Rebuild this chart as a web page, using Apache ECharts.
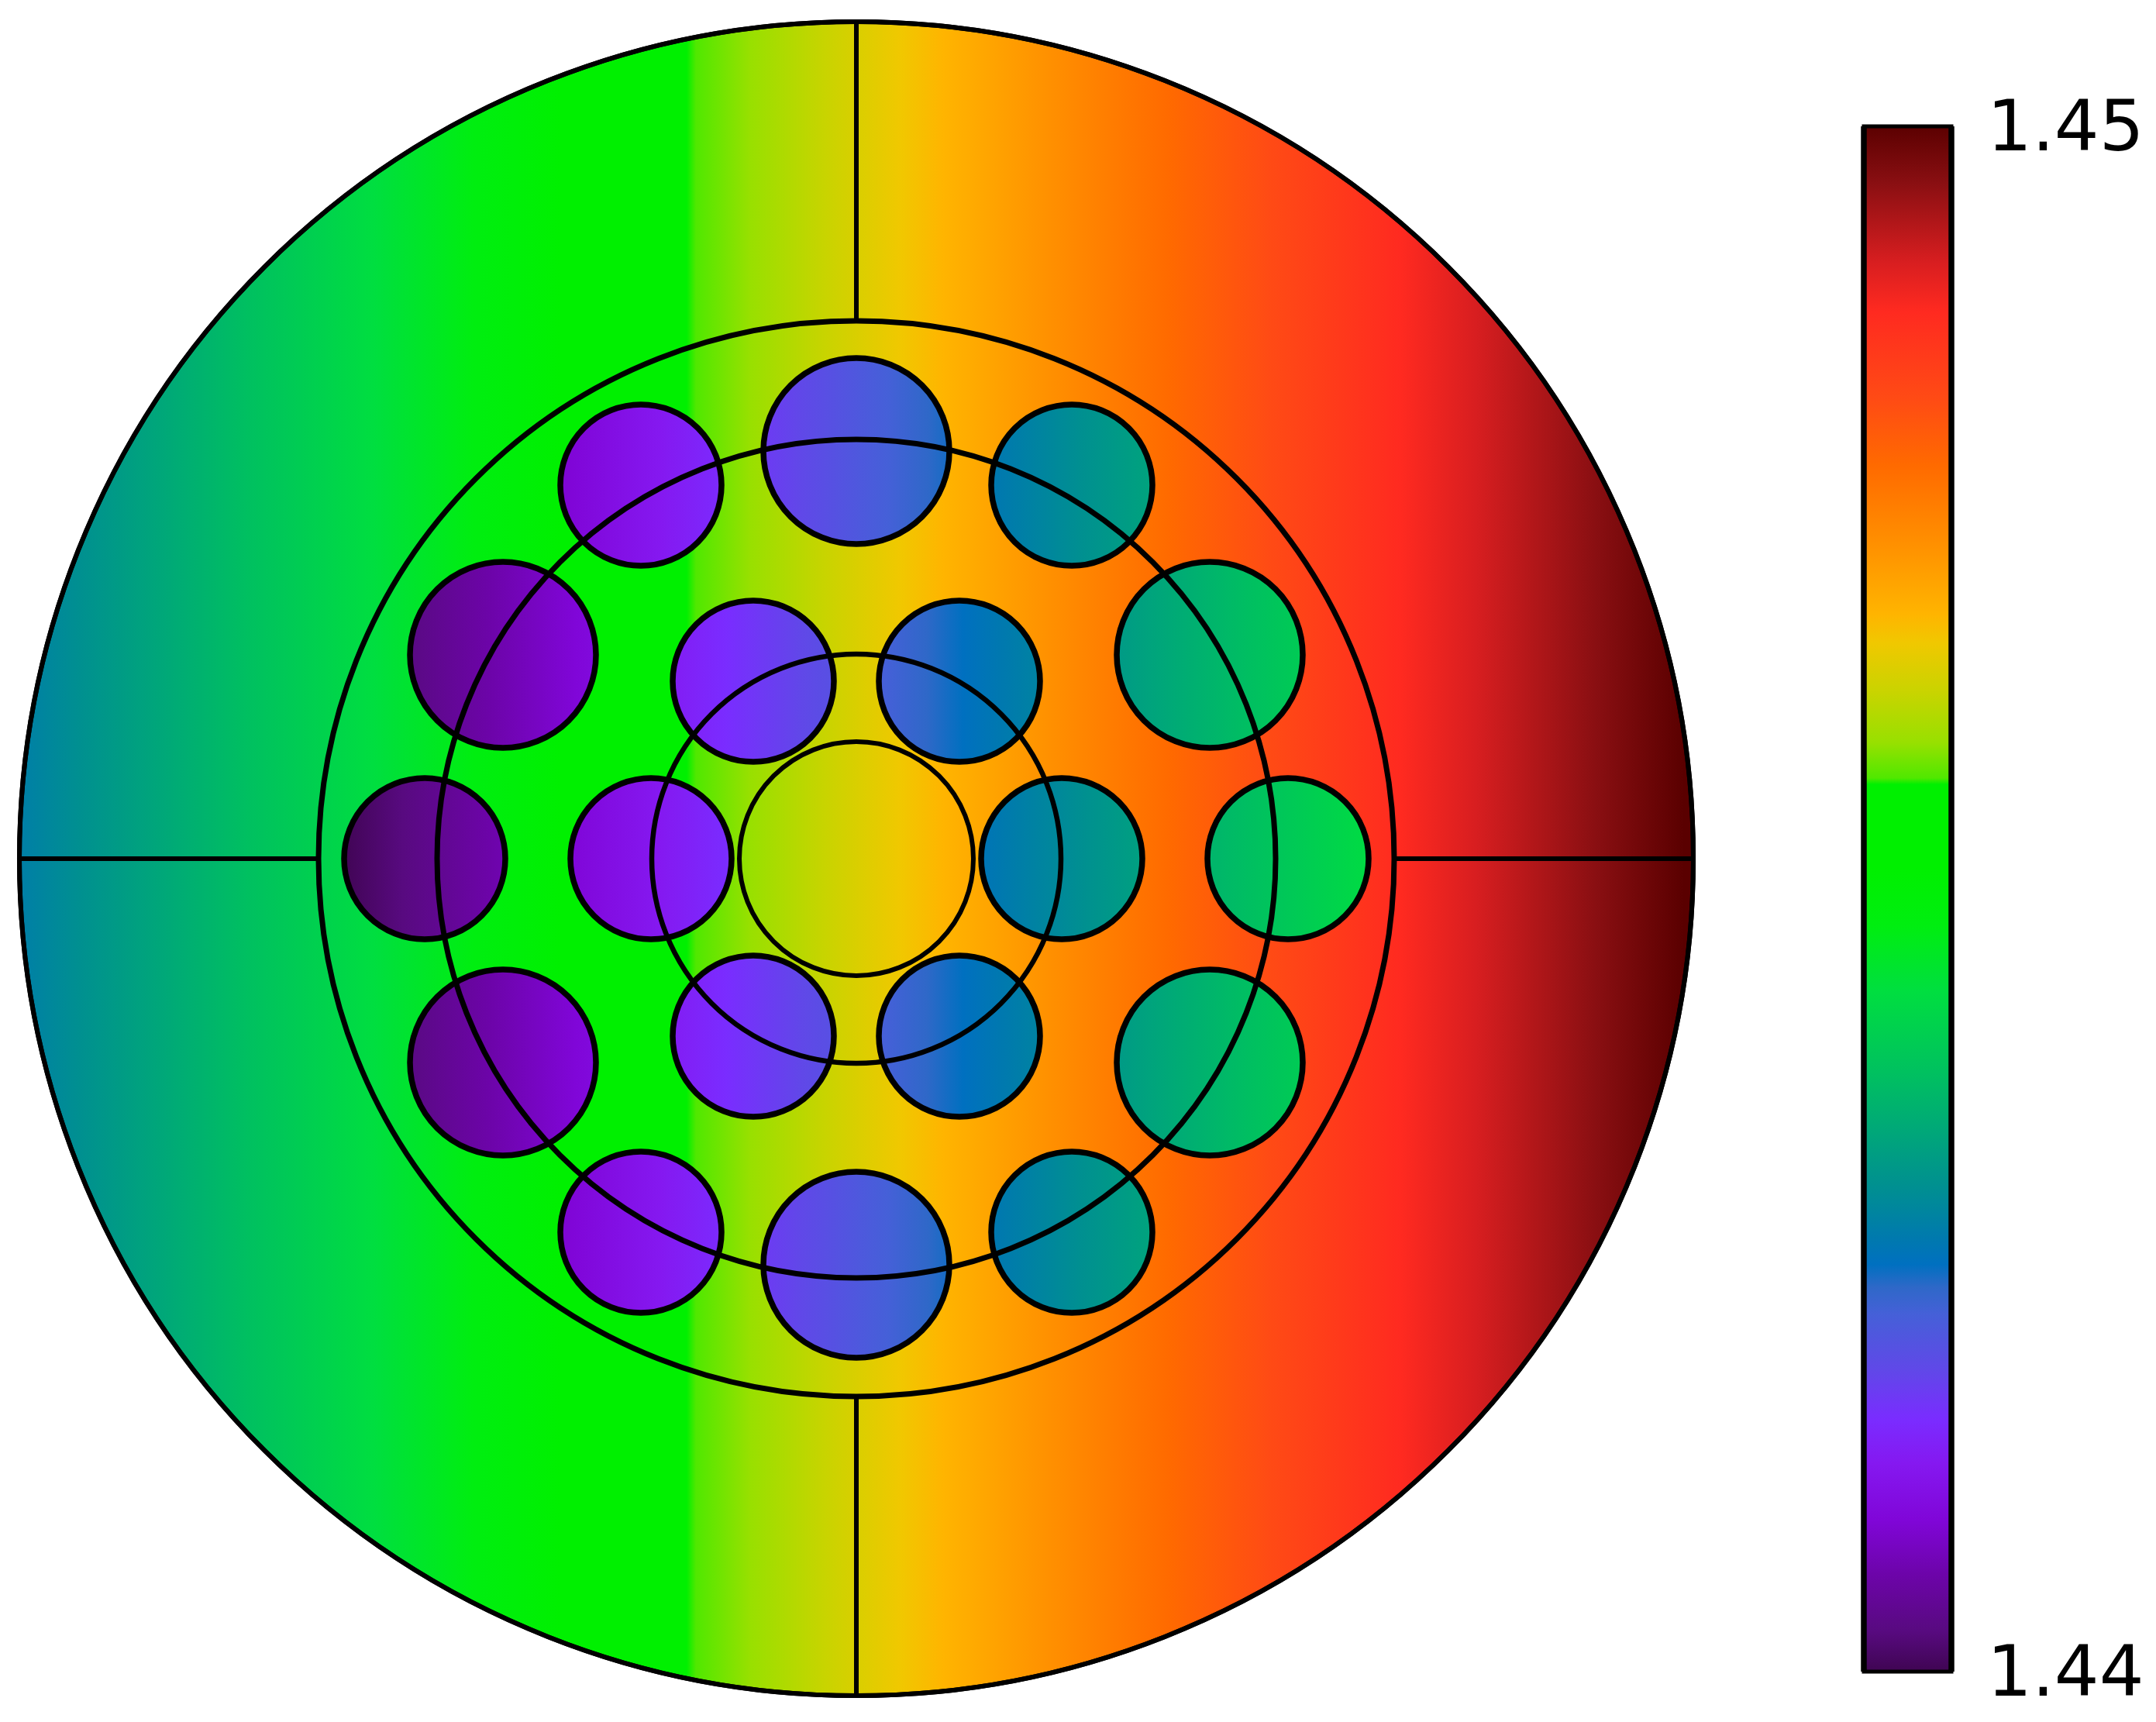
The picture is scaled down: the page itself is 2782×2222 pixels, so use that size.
<!DOCTYPE html>
<html>
<head>
<meta charset="utf-8">
<style>html,body{margin:0;padding:0;background:#fff}#c{width:2782px;height:2222px}</style>
<script src="https://cdn.jsdelivr.net/npm/echarts@6/dist/echarts.min.js"></script>
</head>
<body>
<div id="c"></div>
<script>
// Colour scale
const scaleValues = [1.44,1.440276,1.440632,1.440993,1.441354,1.44164,1.44196,1.44232,1.44249,1.44264,1.44279,1.44315,1.44351,1.44387,1.4444,1.44483,1.4452,1.44574,1.44578,1.44601,1.44633,1.44665,1.44684,1.44729,1.4478,1.44824,1.44879,1.44911,1.44962,1.45];
const scaleColors = ['#3e0550','#580a80','#6c04a8','#8006d8','#8518f0','#7a2cff','#6048e8','#4560d8','#2f68c8','#0070c0','#0078b0','#009090','#00a878','#00c060','#00de40','#00ee10','#00f000','#00f000','#50e800','#98e000','#c8d400','#f0c800','#ffb400','#ff9000','#ff6a00','#ff4a15','#ff2a20','#d81e20','#8a0f12','#5a0000'];
const barTicks = [1.44, 1.45];

// Cladding: centre x, centre y, radius, value at left edge, value at right edge
const discX = [0], discY = [0], discR = [1080], discLeft = [1.44288], discRight = [1.45005];

// Holes
const holeX = [0,0,-278,278,-278,278,-456,456,-456,456,-557,557,-265,265,-133,133,-133,133];
const holeY = [-524,526,-482,-482,482,482,-263,-263,263,263,0,0,0,0,-229,-229,229,229];
const holeR = [120,120,104,104,104,104,120,120,120,120,104,104,104,104,104,104,104,104];
const holeLeft  = [1.44179,1.44179,1.44093,1.44276,1.44093,1.44276,1.44029,1.44329,1.44029,1.44329,1.44002,1.44367,1.44098,1.44271,1.44141,1.44228,1.44141,1.44228];
const holeRight = [1.44259,1.44259,1.44162,1.44345,1.44162,1.44345,1.44109,1.44409,1.44109,1.44409,1.44071,1.44436,1.44167,1.44340,1.44210,1.44297,1.44210,1.44297];

// Outline rings: radius and line width
const ringR = [1080,694,541,264,151];
const ringW = [6,7,7,6.5,6];

// Spokes between outer ring and second ring
const spokeX0 = [0,0,-1080,694], spokeY0 = [-1080,694,0,0];
const spokeX1 = [0,0,-694,1080], spokeY1 = [-694,1080,0,0];

function colorAt(v){
  if (v <= scaleValues[0]) return scaleColors[0];
  for (let i = 1; i < scaleValues.length; i++) {
    if (v <= scaleValues[i]) {
      const t = (v - scaleValues[i-1]) / (scaleValues[i] - scaleValues[i-1]);
      return echarts.color.lerp(t, [scaleColors[i-1], scaleColors[i]]);
    }
  }
  return scaleColors[scaleColors.length-1];
}
function stopsFor(a, b){
  const stops = [{offset:0, color:colorAt(a)}];
  scaleValues.forEach((v,i)=>{
    if (v > a && v < b) stops.push({offset:(v-a)/(b-a), color:scaleColors[i]});
  });
  stops.push({offset:1, color:colorAt(b)});
  return stops;
}
function filledCircles(z, lineWidth){
  return function(params, api){
    const c = api.coord([api.value(0), api.value(1)]);
    const r = api.size([api.value(2), 0])[0];
    return {
      type:'circle',
      shape:{cx:c[0], cy:c[1], r:r},
      style:{
        fill:new echarts.graphic.LinearGradient(0,0,1,0,stopsFor(api.value(3),api.value(4))),
        stroke:'#000', lineWidth:lineWidth
      }
    };
  };
}
const discData = discX.map((x,i)=>[x,discY[i],discR[i],discLeft[i],discRight[i]]);
const holeData = holeX.map((x,i)=>[x,holeY[i],holeR[i],holeLeft[i],holeRight[i]]);
const ringData = ringR.map((r,i)=>[0,0,r,ringW[i]]);
const spokeData = spokeX0.map((x,i)=>[x,spokeY0[i],spokeX1[i],spokeY1[i]]);

const chart = echarts.init(document.getElementById('c'), null, {renderer:'canvas', width:2782, height:2222});
chart.setOption({
  animation:false,
  backgroundColor:'#fff',
  tooltip:{show:false},
  grid:[
    {left:0, top:0, width:2782, height:2222},
    {left:2405, top:163, width:113, height:1994},
    {left:2405, top:170, width:113, height:1994}
  ],
  xAxis:[
    {type:'value', gridIndex:0, min:-1105, max:1677, show:false},
    {type:'value', gridIndex:1, min:0, max:1, show:false},
    {type:'value', gridIndex:2, min:0, max:1, show:false}
  ],
  yAxis:[
    {type:'value', gridIndex:0, min:-1114, max:1108, show:false},
    {type:'value', gridIndex:1, min:barTicks[0], max:barTicks[1], show:false},
    {type:'value', gridIndex:2, position:'right', min:barTicks[0], max:barTicks[1], interval:0.01,
     axisLine:{show:false}, axisTick:{show:false}, splitLine:{show:false},
     axisLabel:{margin:46, fontSize:91, fontFamily:'DejaVu Sans', color:'#000',
       formatter:v=>v.toFixed(2)}}
  ],
  series:[
    {type:'custom', name:'cladding', xAxisIndex:0, yAxisIndex:0, z:1, silent:true, clip:false,
     data:discData, encode:{x:0,y:1}, renderItem:filledCircles(1,6)},
    {type:'custom', name:'holes', xAxisIndex:0, yAxisIndex:0, z:2, silent:true, clip:false,
     data:holeData, encode:{x:0,y:1}, renderItem:filledCircles(2,7.5)},
    {type:'custom', name:'rings', xAxisIndex:0, yAxisIndex:0, z:3, silent:true, clip:false,
     data:ringData, encode:{x:0,y:1},
     renderItem:function(params, api){
       const c = api.coord([api.value(0), api.value(1)]);
       return {type:'circle', shape:{cx:c[0], cy:c[1], r:api.size([api.value(2),0])[0]},
         style:{fill:'none', stroke:'#000', lineWidth:api.value(3)}};
     }},
    {type:'custom', name:'spokes', xAxisIndex:0, yAxisIndex:0, z:3, silent:true, clip:false,
     data:spokeData, encode:{x:[0,2],y:[1,3]},
     renderItem:function(params, api){
       const a = api.coord([api.value(0), api.value(1)]);
       const b = api.coord([api.value(2), api.value(3)]);
       return {type:'line', shape:{x1:a[0], y1:a[1], x2:b[0], y2:b[1]},
         style:{stroke:'#000', lineWidth:6}};
     }},
    {type:'custom', name:'colorbar', xAxisIndex:1, yAxisIndex:1, z:4, silent:true, clip:false,
     data:[[0,barTicks[0],1,barTicks[1]]], encode:{x:[0,2],y:[1,3]},
     renderItem:function(params, api){
       const a = api.coord([api.value(0), api.value(1)]);
       const b = api.coord([api.value(2), api.value(3)]);
       const x = a[0], w = b[0]-a[0], y = b[1], h = a[1]-b[1];
       return {type:'group', children:[
         {type:'rect', shape:{x:x, y:y, width:w, height:h},
          style:{fill:new echarts.graphic.LinearGradient(0,1,0,0,stopsFor(api.value(1),api.value(3))),
                 stroke:'#000', lineWidth:5}},
         {type:'line', shape:{x1:x, y1:y, x2:x, y2:y+h}, style:{stroke:'#000', lineWidth:7.5}},
         {type:'line', shape:{x1:x+w, y1:y, x2:x+w, y2:y+h}, style:{stroke:'#000', lineWidth:7.5}}
       ]};
     }}
  ]
});
</script>
</body>
</html>
